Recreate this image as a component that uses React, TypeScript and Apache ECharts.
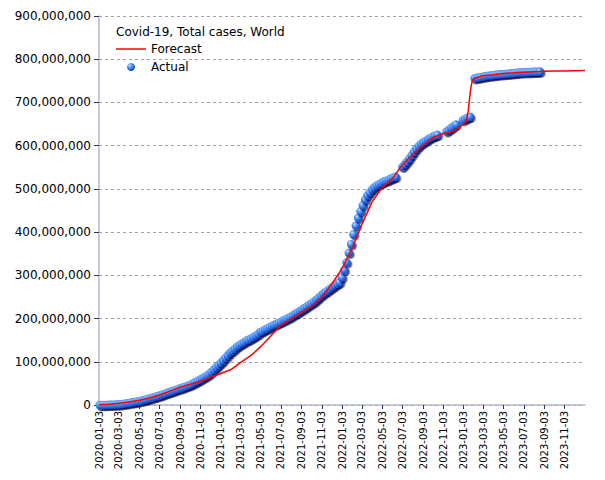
import React, { useEffect, useRef } from 'react';
import * as echarts from 'echarts';

const FONT = 'DejaVu Sans';

// X-axis tick labels (every two months)
const tickLabels = [
  '2020-01-03', '2020-03-03', '2020-05-03', '2020-07-03', '2020-09-03', '2020-11-03',
  '2021-01-03', '2021-03-03', '2021-05-03', '2021-07-03', '2021-09-03', '2021-11-03',
  '2022-01-03', '2022-03-03', '2022-05-03', '2022-07-03', '2022-09-03', '2022-11-03',
  '2023-01-03', '2023-03-03', '2023-05-03', '2023-07-03', '2023-09-03', '2023-11-03',
];
const axisStart = '2020-01-03';
const axisEnd = '2024-01-03';

// Actual: weekly observations starting at this date, values in millions (null = no report)
const actualStart = '2020-01-05';
const actualValues: (number | null)[] = [
  0, 0.1, 0.1, 0.2, 0.3, 0.5, 0.8, 1.1, 1.4, 1.8,
  2.5, 3.3, 4.2, 5.2, 6.1, 7.0, 8.0, 8.9, 10.3, 11.6,
  13.0, 14.4, 16.0, 17.6, 19.2, 20.8, 22.6, 24.4, 26.2, 28.1,
  30.0, 31.8, 33.7, 35.5, 37.4, 39.3, 41.1, 43.0, 44.9, 47.1,
  49.8, 52.6, 55.5, 58.3, 61.5, 64.7, 68.1, 71.3, 76.3, 81.5,
  87, 92, 97.6, 103, 109, 115, 121, 125.5, 130, 135,
  138.5, 142, 145, 149, 151, 154, 157, 160.5, 164, 169,
  171, 174.5, 177, 180, 183, 185.5, 188, 190.5, 193, 196,
  198.5, 201, 204, 207.5, 211, 214, 217.5, 221, 224.5, 228,
  232, 235, 239, 243, 248, 253, 257.5, 261, 265, 269,
  273, 277, 280.5, 284, 295, 312, 330, 352, 372, 395,
  415, 433, 448, 462, 475, 485, 492, 499, 504, 508,
  511, 514, 517, 519, 521, 524, 526, 528, null, null,
  551, 557, 563, 570, 578, 586, 593, 599, 604, 608,
  611, 615, 618, 621, 623, 625, null, null, null, 633,
  637, 641, 645, 649, null, null, 659, 662, 665, 667,
  null, 756, 757, 758, 759, 760, 761, 762, 762.5, 763,
  764, 764.5, 765, 765.5, 766, 766.5, 767, 767.5, 768, 768.5,
  769, 769.5, 770, 770, 770.5, 770.5, 771, 771, 771, 771.5,
];

// Forecast curve, values in millions
const forecastDates = [
  '2020-01-03', '2020-02-03', '2020-03-03', '2020-04-03', '2020-05-03', '2020-06-03',
  '2020-07-03', '2020-08-03', '2020-09-03', '2020-10-03', '2020-11-03', '2020-12-03',
  '2021-01-03', '2021-02-03', '2021-03-03', '2021-04-03', '2021-05-03', '2021-06-03',
  '2021-07-03', '2021-08-03', '2021-09-03', '2021-10-03', '2021-11-03', '2021-12-03',
  '2022-01-03', '2022-02-03', '2022-03-03', '2022-04-03', '2022-05-03', '2022-06-03',
  '2022-07-03', '2022-08-03', '2022-09-03', '2022-10-03', '2022-11-03', '2022-12-03',
  '2022-12-20', '2023-01-03', '2023-01-12', '2023-01-17', '2023-01-21', '2023-01-25',
  '2023-01-29', '2023-02-05', '2023-03-03', '2023-04-03', '2023-05-03', '2023-06-03',
  '2023-07-03', '2023-08-03', '2023-09-03', '2023-10-03', '2023-11-03', '2023-12-03',
  '2024-01-03',
];
const forecastValues = [
  0.5, 2, 4, 7, 11, 16,
  23, 32, 41, 48, 55, 64,
  73, 82, 98, 114, 135, 160,
  185, 200, 215, 229, 250, 280,
  316, 365, 417, 470, 503, 524,
  556, 580, 601, 619, 628, 633,
  642, 650, 660, 680, 710, 735,
  750, 756, 762, 764, 767, 768.5,
  770, 771, 772, 772.5, 773, 773.5,
  774,
];

export default function App() {
  const ref = useRef<HTMLDivElement>(null);

  useEffect(() => {
    if (!ref.current) return;
    const chart = echarts.init(ref.current, null, { renderer: 'svg' });
    const parse = (s: string) => +echarts.time.parse(s);
    const DAY = 86400000;
    const start = parse(actualStart);

    const actualData: [number, number][] = [];
    actualValues.forEach((v, i) => {
      if (v !== null) actualData.push([start + i * 7 * DAY, v * 1e6]);
    });
    const forecastData = forecastDates.map((d, i) => [parse(d), forecastValues[i] * 1e6]);
    const ticks = tickLabels.map(parse);

    const ball = new echarts.graphic.RadialGradient(0.35, 0.32, 0.72, [
      { offset: 0, color: '#c4e6ff' },
      { offset: 0.3, color: '#62a2ff' },
      { offset: 0.72, color: '#2464e4' },
      { offset: 1, color: '#1646b8' },
    ]);

    chart.setOption({
      animation: false,
      backgroundColor: '#ffffff',
      textStyle: { fontFamily: FONT },
      title: {
        text: 'Covid-19, Total cases, World',
        left: 116,
        top: 26,
        padding: 0,
        textStyle: { fontFamily: FONT, fontSize: 12, fontWeight: 'normal', color: '#000000' },
      },
      legend: {
        orient: 'vertical',
        left: 116,
        top: 43,
        padding: 0,
        itemWidth: 30,
        itemHeight: 8,
        itemGap: 6,
        textStyle: { fontFamily: FONT, fontSize: 12, color: '#000000' },
        data: [
          { name: 'Forecast', icon: 'path://M0,0H30V1.5H0Z', itemStyle: { color: '#ff0000' } },
          { name: 'Actual', icon: 'circle' },
        ],
      },
      grid: { left: 99, right: 20, top: 16, bottom: 75 },
      xAxis: {
        type: 'value',
        min: parse(axisStart),
        max: parse(axisEnd),
        axisLine: { lineStyle: { color: '#b3b7cc', width: 1.5 } },
        axisTick: {
          show: true,
          customValues: ticks,
          length: 4,
          lineStyle: { color: '#2a3570' },
        },
        axisLabel: {
          customValues: ticks,
          rotate: 90,
          fontSize: 10,
          fontFamily: FONT,
          color: '#000000',
          margin: 6,
          formatter: (v: number) => echarts.time.format(v, '{yyyy}-{MM}-{dd}', false),
        },
        splitLine: { show: false },
      },
      yAxis: {
        type: 'value',
        min: 0,
        max: 900000000,
        interval: 100000000,
        axisLine: { show: true, lineStyle: { color: '#b3b7cc', width: 1.5 } },
        axisTick: { show: true, length: 5, lineStyle: { color: '#2a3570' } },
        axisLabel: {
          fontSize: 12,
          fontFamily: FONT,
          color: '#000000',
          margin: 8,
          formatter: (v: number) => v.toLocaleString('en-US'),
        },
        splitLine: { lineStyle: { type: [3, 3], color: '#a0a0a0', width: 1 } },
      },
      series: [
        {
          name: 'Actual',
          type: 'scatter',
          data: actualData,
          symbolSize: 8.5,
          z: 2,
          itemStyle: {
            color: ball,
            opacity: 1,
            shadowBlur: 1.5,
            shadowColor: 'rgba(0,0,60,0.65)',
            shadowOffsetX: 1.5,
            shadowOffsetY: 1.8,
          },
        },
        {
          name: 'Forecast',
          type: 'line',
          data: forecastData,
          symbol: 'none',
          showSymbol: false,
          z: 3,
          lineStyle: { color: '#ff0000', width: 1.5 },
          itemStyle: { color: '#ff0000' },
        },
      ],
    });

    return () => chart.dispose();
  }, []);

  return (
    <div
      ref={ref}
      style={{ position: 'fixed', left: 0, top: 0, width: 605, height: 480, background: '#fff' }}
    />
  );
}
